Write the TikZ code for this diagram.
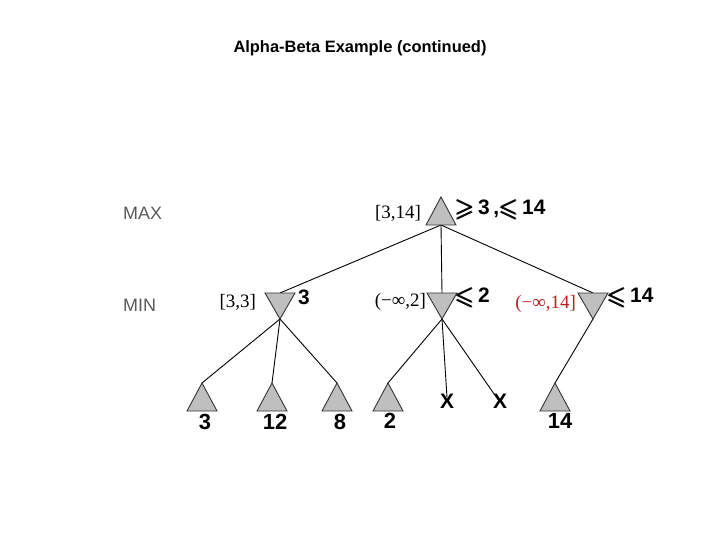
\documentclass[tikz,border=0pt]{standalone}
\usepackage{amsmath,amssymb}
\usepackage{fontspec}
\setmainfont{Liberation Serif}
\newfontfamily\arial{Liberation Sans}
\newcommand{\bgeq}{\raisebox{-2bp}{\scalebox{1.2}{$\pmb{\geqslant}$}}}
\newcommand{\bleq}{\raisebox{-2bp}{\scalebox{1.2}{$\pmb{\leqslant}$}}}
\begin{document}
\begin{tikzpicture}[x=1bp,y=-1bp,
  tri/.style={fill=black!25,draw=black!80,line width=0.9bp,line join=miter},
  edge/.style={draw=black,line width=0.9bp},
  lvl/.style={font=\arial\fontsize{18}{18}\selectfont,text=black!65,inner sep=0pt},
  iv/.style={font=\fontsize{19}{19}\selectfont,inner sep=0pt},
  bnd/.style={font=\arial\bfseries\fontsize{21}{21}\selectfont,inner sep=0pt},
  leaf/.style={font=\arial\bfseries\fontsize{22}{22}\selectfont,inner sep=0pt}]
\useasboundingbox (0,0) rectangle (720,540);
% title
\node[font=\arial\bfseries\fontsize{16.5}{16.5}\selectfont,inner sep=0pt] (title) at (360,48) {Alpha-Beta Example (continued)};
% level labels
\node[lvl,anchor=west] (maxl) at (123,213) {MAX};
\node[lvl,anchor=west] (minl) at (123,305) {MIN};
% coordinates
\coordinate (root) at (441,225);
\coordinate (minA) at (280,293);
\coordinate (minB) at (442,293);
\coordinate (minC) at (593,293);
\coordinate (minAb) at (280,319);
\coordinate (minBb) at (442,319);
\coordinate (minCb) at (593,319);
\coordinate (l1) at (202,383);
\coordinate (l2) at (272,383);
\coordinate (l3) at (337,383);
\coordinate (l4) at (388,383);
\coordinate (l7) at (555,383);
\node[font=\arial\bfseries\fontsize{21}{21}\selectfont,inner sep=0pt] (x1) at (447,401) {X};
\node[font=\arial\bfseries\fontsize{21}{21}\selectfont,inner sep=0pt] (x2) at (500,401) {X};
% edges
\draw[edge] (root) -- (minA);
\draw[edge] (root) -- (minB);
\draw[edge] (root) -- (minC);
\draw[edge] (minAb) -- (l1);
\draw[edge] (minAb) -- (l2);
\draw[edge] (minAb) -- (l3);
\draw[edge] (minBb) -- (l4);
\draw[edge] (minBb) -- ([yshift=-4bp]x1.north);
\draw[edge] (minBb) -- ([xshift=-2bp,yshift=-6bp]x2.north);
\draw[edge] (minCb) -- (l7);
% triangles
\draw[tri] (root) ++(-15,0) -- ++(30,0) -- ++(-15,-28) -- cycle;
\foreach \n in {minA,minB,minC}{
  \draw[tri] (\n) ++(-15,0) -- ++(30,0) -- ++(-15,26) -- cycle;
}
\foreach \n in {l1,l2,l3,l4,l7}{
  \draw[tri] (\n) -- ++(15,28) -- ++(-30,0) -- cycle;
}
% leaf values
\node[leaf] (v1) at (205,422) {3};
\node[leaf] (v2) at (275,422) {12};
\node[leaf] (v3) at (340,422) {8};
\node[leaf] (v4) at (390,421) {2};
\node[leaf] (v7) at (560,421) {14};
% intervals
\node[iv,anchor=east] (ivr) at (421,213) {[3,14]};
\node[iv,anchor=east] (iva) at (256,302) {[3,3]};
\node[iv,anchor=east] (ivb) at (426,302) {(−∞,2]};
\node[iv,anchor=east,text={rgb,255:red,190;green,30;blue,30}] (ivc) at (576,304) {(−∞,14]};
% bounds
\node[bnd,anchor=west] (br) at (455,210) {\bgeq\,3\,,\bleq\,14};
\node[bnd,anchor=west] (ba) at (298,297) {3};
\node[bnd,anchor=west] (bb) at (455,298) {\bleq\,2};
\node[bnd,anchor=west] (bc) at (607,298) {\bleq\,14};
\end{tikzpicture}
\end{document}
